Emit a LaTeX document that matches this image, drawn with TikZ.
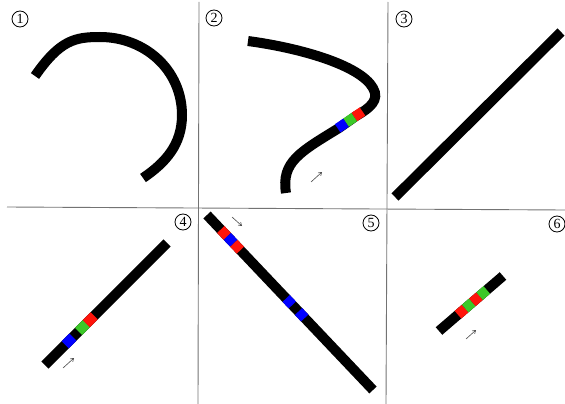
\documentclass[tikz,border=0pt]{standalone}
\usepackage{fontspec}
\setmainfont{Liberation Serif}
\usetikzlibrary{calc,arrows.meta}
\tikzset{
  gridline/.style={draw=black!55, line width=0.9pt},
  band/.style={draw=black, line width=10pt, line cap=butt},
  segline/.style={line width=10pt, line cap=butt},
  numc/.style={circle, draw, line width=0.8pt, inner sep=0pt, minimum size=16pt, font=\fontsize{14}{14}\selectfont},
  dirarrow/.style={draw=black!70, line width=0.6pt, -{Straight Barb[length=3pt,width=4pt]}}
}
\definecolor{cred}{RGB}{255,20,10}
\definecolor{cgreen}{RGB}{60,200,40}
\definecolor{cblue}{RGB}{0,0,255}
\newcommand\colseg[5]{\draw[segline, draw=#1] ($(#2)!#4pt!(#3)$) -- ($(#2)!#5pt!(#3)$);}
\begin{document}
\begin{tikzpicture}[x=1pt,y=-1pt]
\useasboundingbox (0,0) rectangle (565,404);
% grid
\coordinate (v1t) at (199,2); \coordinate (v1b) at (198,404);
\coordinate (v2t) at (388,2); \coordinate (v2b) at (386,404);
\coordinate (hl) at (7,207); \coordinate (hr) at (565,210);
\draw[gridline] (v1t) -- (v1b);
\draw[gridline] (v2t) -- (v2b);
\draw[gridline] (hl) -- (hr);
% numbers
\node[numc] (n1) at (20,19) {1};
\node[numc] (n2) at (214,18) {2};
\node[numc] (n3) at (404,19) {3};
\node[numc] (n4) at (183,222) {4};
\node[numc] (n5) at (371,223) {5};
\node[numc] (n6) at (557,224) {6};
% shape 1
\coordinate (s1a) at (35,76); \coordinate (s1b) at (143,178);
\draw[band] (s1a) .. controls (60,40) and (75,37) .. (100,37)
  .. controls (145,37) and (182,70) .. (182,115)
  .. controls (182,145) and (165,163) .. (s1b);
% shape 2
\coordinate (s2s) at (248,41); \coordinate (s2t) at (286,193);
\draw[band] (s2s) .. controls (300,48) and (360,65) .. (373,88)
  .. controls (380,100) and (370,108) .. (356,116)
  -- (339,128)
  .. controls (300,152) and (281,162) .. (s2t);
\coordinate (s2a) at (362.5,111.5); \coordinate (s2b) at (337.5,128.5);
\colseg{cred}{s2a}{s2b}{0}{10}
\colseg{cgreen}{s2a}{s2b}{10}{20}
\colseg{cblue}{s2a}{s2b}{20}{30}
\coordinate (a2s) at (311,182); \coordinate (a2e) at (322,172);
\draw[dirarrow] (a2s) -- (a2e);
% shape 3
\coordinate (s3a) at (395,197); \coordinate (s3b) at (561,32);
\draw[band] (s3a) -- (s3b);
% shape 4
\coordinate (s4a) at (45,365); \coordinate (s4b) at (167,243);
\draw[band] (s4a) -- (s4b);
\colseg{cblue}{s4a}{s4b}{28.5}{39.5}
\colseg{cgreen}{s4a}{s4b}{47.5}{58.5}
\colseg{cred}{s4a}{s4b}{58.5}{69.5}
\coordinate (a4s) at (63,368); \coordinate (a4e) at (74,358);
\draw[dirarrow] (a4s) -- (a4e);
% shape 5
\coordinate (s5a) at (207,215); \coordinate (s5b) at (373,390);
\draw[band] (s5a) -- (s5b);
\colseg{cred}{s5a}{s5b}{20}{29.5}
\colseg{cblue}{s5a}{s5b}{29.5}{39}
\colseg{cred}{s5a}{s5b}{39}{48.5}
\colseg{cblue}{s5a}{s5b}{115}{124}
\colseg{cblue}{s5a}{s5b}{133}{142}
\coordinate (a5s) at (232,217); \coordinate (a5e) at (242,226);
\draw[dirarrow] (a5s) -- (a5e);
% shape 6
\coordinate (s6a) at (439,331); \coordinate (s6b) at (503,276);
\draw[band] (s6a) -- (s6b);
\colseg{cred}{s6a}{s6b}{25}{34.5}
\colseg{cgreen}{s6a}{s6b}{34.5}{44}
\colseg{cred}{s6a}{s6b}{44}{53.5}
\colseg{cgreen}{s6a}{s6b}{53.5}{63}
\coordinate (a6s) at (466,339); \coordinate (a6e) at (476,330);
\draw[dirarrow] (a6s) -- (a6e);
\end{tikzpicture}
\end{document}
